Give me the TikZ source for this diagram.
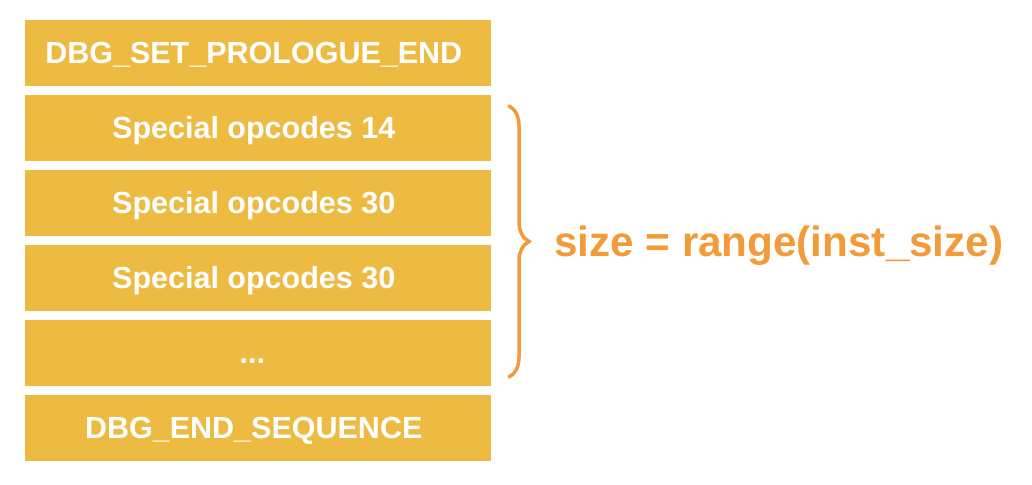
\documentclass[tikz,border=0pt]{standalone}
\usepackage{fontspec}
\setmainfont{Liberation Sans}
\usepackage{tikz}
\usetikzlibrary{matrix, decorations.pathreplacing}

\definecolor{boxgold}{RGB}{237,187,66}
\definecolor{labelorange}{RGB}{242,155,56}

\begin{document}
\begin{tikzpicture}[x=1pt, y=1pt,
  opbox/.style={fill=boxgold, text=white, anchor=center, align=center, minimum width=466pt, minimum height=66pt, text height=22pt, text depth=0pt, inner sep=0pt, outer sep=0pt, font=\fontsize{30.5}{36}\selectfont\bfseries},
  braceline/.style={draw=labelorange, line width=3.5pt, line cap=round, decorate, decoration={brace, amplitude=20pt}},
  sizelabel/.style={text=labelorange, inner sep=0pt, font=\fontsize{42.2}{50}\selectfont\bfseries}]
\useasboundingbox[fill=white] (0,0) rectangle (1032,484);
\matrix (M)[matrix of nodes, row sep=9pt, inner sep=0pt, nodes={opbox}] at (258,243.5) {
DBG\_SET\_PROLOGUE\_END \\
Special opcodes 14 \\
Special opcodes 30 \\
Special opcodes 30 \\
... \\
DBG\_END\_SEQUENCE \\
};
\coordinate (brtop) at ([xshift=18pt,yshift=-11pt]M-2-1.north east);
\coordinate (brbot) at ([xshift=18pt,yshift=9pt]M-5-1.south east);
\draw[braceline] (brtop) -- (brbot);
\node[sizelabel, anchor=base west] (sizeeq) at (554,227) {size = range(inst\_size)};
\end{tikzpicture}
\end{document}
